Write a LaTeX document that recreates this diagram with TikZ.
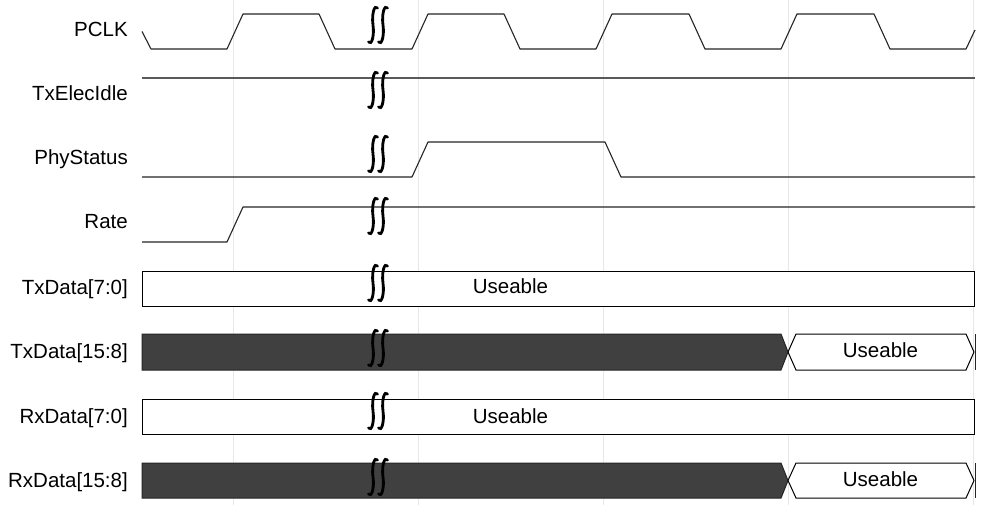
\documentclass[tikz,border=0pt]{standalone}
\usepackage{fontspec}
\setmainfont{Liberation Sans}
\begin{document}
\begin{tikzpicture}[x=1pt,y=-1pt,
  sig/.style={line width=1.1pt, draw=black!85, line join=round},
  gridline/.style={draw=black!9, line width=0.8pt},
  lbl/.style={anchor=base east, font=\fontsize{20.5}{21}\selectfont, inner sep=0pt},
  txt/.style={anchor=base, font=\fontsize{20.5}{21}\selectfont, inner sep=0pt},
  brk/.style={line width=2.8pt, line cap=round, draw=black},
  buswhite/.style={draw=black, line width=1pt, fill=white, line join=miter},
  busdark/.style={draw=black!85, fill=black!75, line width=1pt, line join=miter},
  brkpic/.pic={\draw[brk] (4.5,-17) .. controls (1.5,-21) and (-1.5,-11) .. (0,0) .. controls (1.5,11) and (-1.5,21) .. (-4.5,17);}
]
\useasboundingbox (0,0) rectangle (982,505);
\fill[white] (0,0) rectangle (982,505);
% grid
\foreach \x in {233,418,603,788,973} \draw[gridline] (\x,0) -- (\x,505);

% labels
\node[lbl] (lpclk) at (128,37) {PCLK};
\node[lbl] (lidle) at (128,101) {TxElecIdle};
\node[lbl] (lphy) at (128,165) {PhyStatus};
\node[lbl] (lrate) at (128,229) {Rate};
\node[lbl] (ltx0) at (128,294) {TxData[7:0]};
\node[lbl] (ltx1) at (128,358) {TxData[15:8]};
\node[lbl] (lrx0) at (128,423) {RxData[7:0]};
\node[lbl] (lrx1) at (128,487) {RxData[15:8]};

% PCLK
\draw[sig] (142,31.5) -- (151,49) -- (227,49) -- (243,14) -- (319,14) -- (335,49) -- (412,49) -- (428,14) -- (504,14) -- (520,49) -- (596,49) -- (612,14) -- (689,14) -- (705,49) -- (781,49) -- (797,14) -- (874,14) -- (890,49) -- (966,49) -- (975,30);
% TxElecIdle
\draw[sig, draw=black!65, line width=1.3pt] (142,78) -- (975,78);
% PhyStatus
\draw[sig] (142,177) -- (412,177) -- (428,142) -- (605,142) -- (621,177) -- (975,177);
% Rate
\draw[sig] (142,242) -- (227,242) -- (243,207) -- (975,207);

% TxData[7:0]
\draw[buswhite] (142,271) rectangle (974,306);
\node[txt] (utx0) at (510.5,293) {Useable};
% TxData[15:8]
\draw[busdark] (142,334) -- (781,334) -- (788,352) -- (781,370) -- (142,370) -- cycle;
\draw[buswhite] (788,352) -- (796,334) -- (966,334) -- (974,352) -- (966,370) -- (796,370) -- cycle;
\draw[sig] (975.5,334) -- (975.5,370);
\node[txt] (utx1) at (880.5,357) {Useable};
% RxData[7:0]
\draw[buswhite] (142,399) rectangle (974,434);
\node[txt] (urx0) at (510.5,423) {Useable};
% RxData[15:8]
\draw[busdark] (142,463) -- (781,463) -- (788,480.5) -- (781,498) -- (142,498) -- cycle;
\draw[buswhite] (788,480.5) -- (796,463) -- (966,463) -- (974,480.5) -- (966,498) -- (796,498) -- cycle;
\draw[sig] (975.5,463) -- (975.5,498);
\node[txt] (urx1) at (880.5,486) {Useable};

% break marks
\foreach \y in {25,90,154,216,283,348,411,477} {
  \pic at (373,\y) {brkpic};
  \pic at (383,\y) {brkpic};
}
\end{tikzpicture}
\end{document}
